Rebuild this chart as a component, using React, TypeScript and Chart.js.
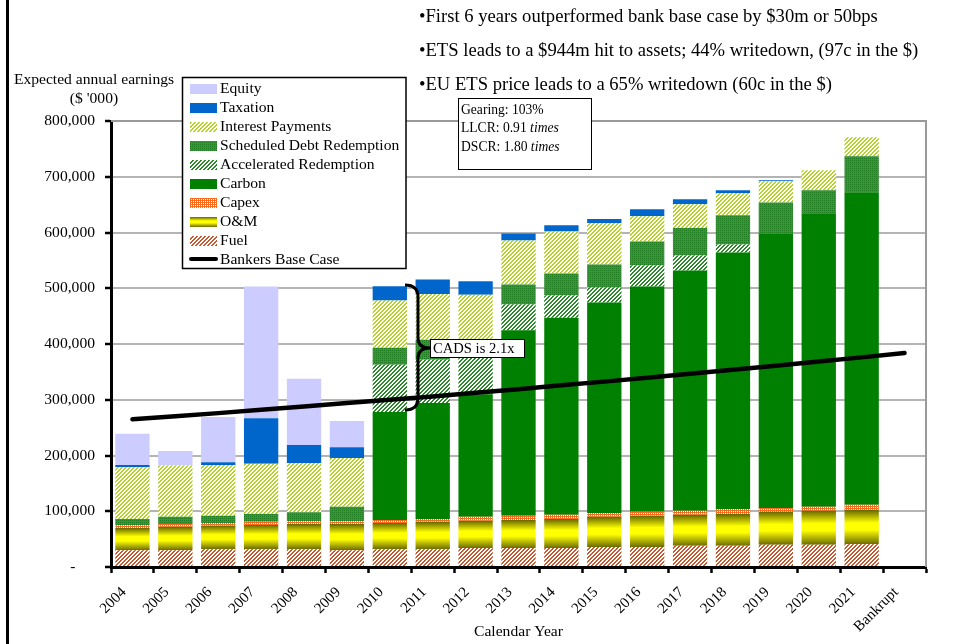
import React, { useEffect, useRef } from "react";
import { Chart, registerables } from "chart.js";

Chart.register(...registerables);

const categories = [
  "2004", "2005", "2006", "2007", "2008", "2009", "2010", "2011", "2012",
  "2013", "2014", "2015", "2016", "2017", "2018", "2019", "2020", "2021", "Bankrupt",
];

// values in $ '000
const fuel = [30000, 30000, 32000, 32000, 32000, 30000, 32000, 32000, 34000, 34000, 34000, 36000, 36000, 38000, 38000, 40000, 40000, 41000, null];
const om = [40000, 42000, 42000, 43500, 45000, 47000, 47000, 49000, 49000, 50500, 52000, 54000, 56000, 55500, 57000, 59000, 61000, 61500, null];
const capex = [5000, 5000, 5000, 5500, 5000, 5000, 5500, 5000, 7000, 7500, 7500, 7000, 7000, 7500, 9000, 7000, 7000, 9000, null];
const carbon = [0, 0, 0, 0, 0, 0, 193500, 208000, 220000, 332500, 353800, 377300, 404000, 430800, 460000, 492400, 526500, 560500, null];
const accelerated = [0, 0, 0, 0, 0, 0, 85000, 77800, 65500, 46200, 39600, 27000, 37800, 27000, 14600, 0, 0, 0, null];
const scheduled = [11000, 13000, 13000, 14000, 16000, 26000, 30300, 35900, 33500, 36000, 39500, 41300, 43200, 49200, 52200, 55600, 41200, 64900, null];
const interest = [93000, 92000, 91000, 90000, 88500, 87500, 84600, 82000, 79400, 79100, 75600, 74400, 45000, 42500, 40100, 38000, 36000, 34100, null];
const taxation = [4000, 0, 5000, 82000, 32500, 19500, 25600, 26000, 24000, 12600, 10800, 7100, 12500, 9000, 4800, 1700, 0, 0, null];
const equity = [56000, 26000, 81000, 236000, 118600, 47000, 0, 0, 0, 0, 0, 0, 0, 0, 0, 0, 0, 0, null];
const bankersBaseCase = [265000, 270500, 276000, 282000, 288000, 294000, 300000, 306000, 312500, 319000, 326000, 332500, 339500, 346500, 354000, 361000, 368500, 376000, 384000];

const legendLabels = [
  "Equity", "Taxation", "Interest Payments", "Scheduled Debt Redemption",
  "Accelerated Redemption", "Carbon", "Capex", "O&M", "Fuel", "Bankers Base Case",
];

const bullets = [
  "•First 6 years outperformed bank base case by $30m or 50bps",
  "•ETS leads to a $944m hit to assets; 44% writedown, (97c in the $)",
  "•EU ETS price leads to a 65% writedown (60c in the $)",
];

const SERIF = "'Liberation Serif', 'Times New Roman', serif";

function tile(ctx: CanvasRenderingContext2D, size: number, bg: string, fg: string, on: (x: number, y: number) => boolean) {
  const c = document.createElement("canvas");
  c.width = size;
  c.height = size;
  const g = c.getContext("2d")!;
  g.fillStyle = bg;
  g.fillRect(0, 0, size, size);
  g.fillStyle = fg;
  for (let y = 0; y < size; y++) for (let x = 0; x < size; x++) if (on(x, y)) g.fillRect(x, y, 1, 1);
  return ctx.createPattern(c, "repeat") as CanvasPattern;
}

function omGradient(ctx: CanvasRenderingContext2D, y0: number, y1: number) {
  const g = ctx.createLinearGradient(0, y0, 0, y1);
  g.addColorStop(0, "#666600");
  g.addColorStop(0.38, "#ffff00");
  g.addColorStop(0.58, "#ffff00");
  g.addColorStop(1, "#6b6b00");
  return g;
}

export default function App() {
  const ref = useRef<HTMLCanvasElement | null>(null);

  useEffect(() => {
    const canvas = ref.current!;
    const ctx = canvas.getContext("2d")!;

    const pInterest = tile(ctx, 4, "#ffffff", "#b4d22a", (x, y) => (x + y) % 4 < 2);
    const pSched = tile(ctx, 4, "#319a31", "#217d21", (x, y) => (x % 2 === 0 && y % 2 === 0));
    const pAccel = tile(ctx, 4, "#ffffff", "#2a8a2a", (x, y) => (x + y) % 4 < 2);
    const pCapex = tile(ctx, 4, "#ffffff", "#ff6a1a", (x, y) => !(x % 2 === 1 && y % 2 === 1));
    const pFuel = tile(ctx, 4, "#ffffff", "#c4582e", (x, y) => (x + y) % 4 < 2);

    const omFill = (c: any) => {
      const chart = c.chart;
      const ys = chart.scales && chart.scales.y;
      if (c.type !== "data" || !ys) return "#e0e000";
      const i = c.dataIndex;
      const base = fuel[i] ?? 0;
      const top = base + (om[i] ?? 0);
      const y0 = ys.getPixelForValue(top);
      const y1 = ys.getPixelForValue(base);
      if (!isFinite(y0) || !isFinite(y1) || y1 - y0 < 1) return "#e0e000";
      return omGradient(chart.ctx, y0, y1);
    };

    const fills: any[] = ["#ccccff", "#0066cc", pInterest, pSched, pAccel, "#008000", pCapex, "omgrad", pFuel];

    const bar = (label: string, data: (number | null)[], bg: any) => ({
      type: "bar" as const,
      label,
      data,
      backgroundColor: bg,
      borderWidth: 0,
      barPercentage: 0.8,
      categoryPercentage: 1,
      order: 1,
      stack: "main",
    });

    const decor = {
      id: "decor",
      beforeDatasetsDraw(chart: any) {
        const { left, right, top, bottom } = chart.chartArea;
        const c = chart.ctx;
        c.save();
        c.strokeStyle = "#9a9a9a";
        c.lineWidth = 2;
        c.beginPath();
        c.moveTo(left, top);
        c.lineTo(right, top);
        c.lineTo(right, bottom);
        c.stroke();
        c.restore();
      },
      afterDraw(chart: any) {
        const c: CanvasRenderingContext2D = chart.ctx;
        const { left, right, bottom } = chart.chartArea;
        const xs = chart.scales.x;
        c.save();
        // frame line at left
        c.fillStyle = "#000";
        c.fillRect(6, 0, 3, 644);

        // rotated category labels (45 degrees)
        c.font = `15px ${SERIF}`;
        c.textAlign = "right";
        c.textBaseline = "middle";
        c.fillStyle = "#000";
        xs.ticks.forEach((_t: any, i: number) => {
          const px = xs.getPixelForTick(i);
          const label = String(xs.getLabelForValue(i));
          c.save();
          c.translate(px - 8.5, bottom + 23);
          c.rotate(-Math.PI / 4);
          c.fillText(label, 0, 0);
          c.restore();
        });

        // axis titles
        c.fillStyle = "#000";
        c.font = `15.6px ${SERIF}`;
        c.textAlign = "center";
        c.textBaseline = "middle";
        c.fillText("Expected annual earnings", 94, 80);
        c.fillText("($ '000)", 94, 99);
        c.fillText("Calendar Year", (left + right) / 2, 632);

        // bullets
        c.textAlign = "left";
        c.font = `18.6px ${SERIF}`;
        const by = [17, 51, 85];
        bullets.forEach((b, i) => c.fillText(b, 419, by[i]));

        // legend
        c.fillStyle = "#fff";
        c.fillRect(182, 77, 224, 191);
        c.strokeStyle = "#000";
        c.lineWidth = 1.5;
        c.strokeRect(182.5, 77.5, 223.5, 191);
        c.font = `15.6px ${SERIF}`;
        legendLabels.forEach((lab, i) => {
          const cy = 89 + i * 19;
          if (i < 9) {
            const f = fills[i];
            c.fillStyle = f === "omgrad" ? omGradient(c, cy - 5, cy + 5) : f;
            c.fillRect(190, cy - 5, 27, 10);
          } else {
            c.strokeStyle = "#000";
            c.lineWidth = 4;
            c.lineCap = "round";
            c.beginPath();
            c.moveTo(191, cy - 1);
            c.lineTo(216, cy - 1);
            c.stroke();
          }
          c.fillStyle = "#000";
          c.fillText(lab, 220, cy);
        });

        // gearing box
        c.fillStyle = "#fff";
        c.fillRect(458, 98, 134, 72);
        c.strokeStyle = "#000";
        c.lineWidth = 1;
        c.strokeRect(458.5, 98.5, 133, 71);
        c.fillStyle = "#000";
        c.font = `13.6px ${SERIF}`;
        c.fillText("Gearing: 103%", 461, 110);
        const rows: [string, number][] = [["LLCR: 0.91 ", 128], ["DSCR: 1.80 ", 147]];
        rows.forEach(([t, y]) => {
          c.font = `13.6px ${SERIF}`;
          c.fillText(t, 461, y);
          const w = c.measureText(t).width;
          c.font = `italic 13.6px ${SERIF}`;
          c.fillText("times", 461 + w, y);
        });

        // brace
        c.strokeStyle = "#000";
        c.lineWidth = 3;
        c.lineCap = "butt";
        c.beginPath();
        c.moveTo(405, 285);
        c.quadraticCurveTo(418, 285, 418, 297);
        c.lineTo(418, 338);
        c.quadraticCurveTo(418, 348, 430, 348);
        c.quadraticCurveTo(418, 348, 418, 358);
        c.lineTo(418, 398);
        c.quadraticCurveTo(418, 410, 405, 410);
        c.stroke();

        // CADS label
        c.fillStyle = "#fff";
        c.fillRect(430, 339, 95, 19);
        c.strokeStyle = "#000";
        c.lineWidth = 1;
        c.strokeRect(430.5, 339.5, 94, 18);
        c.fillStyle = "#000";
        c.font = `14.6px ${SERIF}`;
        c.fillText("CADS is 2.1x", 433, 349);
        c.restore();
      },
    };

    const chart = new Chart(canvas, {
      type: "bar",
      data: {
        labels: categories,
        datasets: [
          bar("Fuel", fuel, pFuel),
          bar("O&M", om, omFill),
          bar("Capex", capex, pCapex),
          bar("Carbon", carbon, "#008000"),
          bar("Accelerated Redemption", accelerated, pAccel),
          bar("Scheduled Debt Redemption", scheduled, pSched),
          bar("Interest Payments", interest, pInterest),
          bar("Taxation", taxation, "#0066cc"),
          bar("Equity", equity, "#ccccff"),
          {
            type: "line" as const,
            label: "Bankers Base Case",
            data: bankersBaseCase,
            borderColor: "#000",
            backgroundColor: "#000",
            borderWidth: 4.5,
            borderCapStyle: "round",
            pointRadius: 0,
            tension: 0,
            fill: false,
            order: 0,
            stack: "base",
          } as any,
        ],
      },
      options: {
        animation: false,
        responsive: false,
        maintainAspectRatio: false,
        events: [],
        layout: { padding: { left: 0, top: 121, right: 28, bottom: 0 } },
        plugins: { legend: { display: false }, tooltip: { enabled: false }, title: { display: false } },
        scales: {
          x: {
            stacked: true,
            grid: {
              drawOnChartArea: false,
              drawTicks: true,
              tickLength: 6,
              tickColor: "#000",
              tickWidth: 2.5,
              offset: true,
            },
            border: { color: "#000", width: 3 },
            ticks: {
              display: false,
              autoSkip: false,
            },
            afterFit: (s: any) => {
              s.height = 77;
            },
          },
          y: {
            stacked: true,
            min: 0,
            max: 800000,
            ticks: {
              stepSize: 100000,
              color: "#000",
              padding: 10,
              font: { family: SERIF, size: 15.6 },
              callback: (v: any) => (Number(v) === 0 ? "-     " : Number(v).toLocaleString("en-US")),
            },
            grid: {
              color: "#b4b4b4",
              lineWidth: 2,
              borderDash: [46, 15.4],
              tickColor: "#000",
              tickWidth: 2.5,
              tickLength: 6,
              tickBorderDash: [],
            },
            border: { color: "#000", width: 3 },
            afterFit: (s: any) => {
              s.width = 111;
            },
          },
        },
      } as any,
      plugins: [decor],
    });

    return () => chart.destroy();
  }, []);

  return (
    <div style={{ position: "absolute", left: 0, top: 0, width: 954, height: 644, background: "#fff" }}>
      <canvas ref={ref} width={954} height={644} style={{ display: "block" }} />
    </div>
  );
}
